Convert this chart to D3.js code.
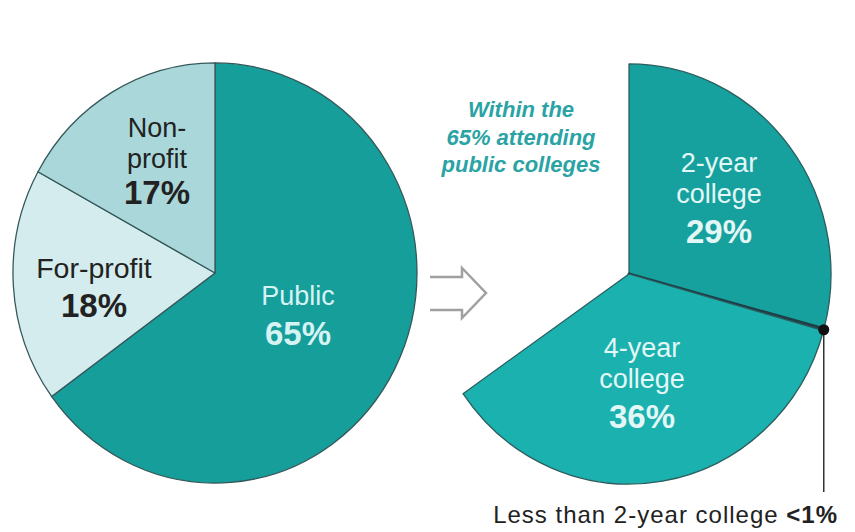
<!DOCTYPE html>
<html>
<head>
<meta charset="utf-8">
<script src="https://cdn.jsdelivr.net/npm/d3@7"></script>
<style>
  body { margin: 0; background: #fff; }
  text { font-family: "Liberation Sans", Arial, sans-serif; }
</style>
</head>
<body>
<svg id="chart" width="855" height="532"></svg>
<script>
// data
const sectors = ["Public", "For-profit", "Non-profit"];
const sectorShares = [65, 18, 17];
const publicTypes = ["2-year college", "Less than 2-year college", "4-year college"];
const publicShares = [29.2, 0.15, 36];

const W = 855, H = 532;
const rx = 202, stretch = 1.04;   // picture is a touch taller than wide

const svg = d3.select("#chart");

// whole circle = 100%
const angle = d3.scaleLinear().domain([0, 100]).range([0, 2 * Math.PI]);

const arc = d3.arc().innerRadius(0).outerRadius(rx);

// ---- left pie
const leftColors = d3.scaleOrdinal().domain(sectors).range(["#169e9b", "#d4eced", "#aad8da"]);

const left = svg.append("g")
    .attr("transform", `translate(215,273) scale(1,${stretch})`);

const pieL = d3.pie().sort(null).value(d => d.v)
    .startAngle(0).endAngle(angle(d3.sum(sectorShares)));

left.selectAll("path")
    .data(pieL(sectors.map((k, i) => ({k: k, v: sectorShares[i]}))))
    .enter().append("path")
    .attr("d", arc)
    .attr("fill", d => leftColors(d.data.k))
    .attr("stroke", "#35585a")
    .attr("stroke-width", 1.3)
    .attr("vector-effect", "non-scaling-stroke");

// ---- right pie (only the public part)
const rightColors = d3.scaleOrdinal().domain(publicTypes).range(["#16a19e", "#1d3f47", "#1bb1af"]);

const cxR = 629, cyR = 274;
const right = svg.append("g")
    .attr("transform", `translate(${cxR},${cyR}) scale(1,${stretch})`);

const pieR = d3.pie().sort(null).value(d => d.v)
    .startAngle(0).endAngle(angle(d3.sum(publicShares)));
const arcsR = pieR(publicTypes.map((k, i) => ({k: k, v: publicShares[i]})));

right.selectAll("path")
    .data(arcsR)
    .enter().append("path")
    .attr("d", arc)
    .attr("fill", d => rightColors(d.data.k))
    .attr("stroke", d => d.data.k == publicTypes[1] ? "#1d3f47" : "#2c5e60")
    .attr("stroke-width", d => d.data.k == publicTypes[1] ? 3 : 1.3)
    .attr("stroke-linejoin", "round")
    .attr("vector-effect", "non-scaling-stroke");

// dot + leader for the thin slice
const thin = arcsR[1];
const a = (thin.startAngle + thin.endAngle) / 2;
const dotX = cxR + Math.sin(a) * rx;
const dotY = cyR - Math.cos(a) * rx * stretch;

svg.append("line")
    .attr("x1", dotX).attr("y1", dotY)
    .attr("x2", dotX).attr("y2", 492)
    .attr("stroke", "#333").attr("stroke-width", 1.5);

svg.append("circle")
    .attr("cx", dotX).attr("cy", dotY).attr("r", 5.5)
    .attr("fill", "#111");

const note = svg.append("text")
    .attr("x", 838).attr("y", 523)
    .attr("text-anchor", "end")
    .attr("font-size", 24)
    .attr("letter-spacing", 1)
    .attr("fill", "#222");
note.append("tspan").text("Less than 2-year college ");
note.append("tspan").attr("font-weight", "bold").text("<1%");

// ---- arrow
svg.append("path")
    .attr("d", "M430,277 H462 V268 L486,293 L462,318 V310 H430")
    .attr("fill", "none")
    .attr("stroke", "#a0a0a0")
    .attr("stroke-width", 2.5);

// ---- labels
function label(x, lines, color) {
    const g = svg.append("g").attr("fill", color).attr("text-anchor", "middle");
    lines.forEach(l => {
        g.append("text")
            .attr("x", x).attr("y", l.y)
            .attr("font-size", l.bold ? 33 : (l.size || 27))
            .attr("font-weight", l.bold ? "bold" : "normal")
            .text(l.t);
    });
}

label(157, [{t: "Non-", y: 137}, {t: "profit", y: 168}, {t: sectorShares[2] + "%", y: 204, bold: true}], "#222");
label(94, [{t: "For-profit", y: 278, size: 28.5}, {t: sectorShares[1] + "%", y: 317, bold: true}], "#222");
label(298, [{t: "Public", y: 305}, {t: sectorShares[0] + "%", y: 345, bold: true}], "#d6f3f3");

label(719, [{t: "2-year", y: 172}, {t: "college", y: 203}, {t: "29%", y: 243, bold: true}], "#e4f7f7");
label(642, [{t: "4-year", y: 357}, {t: "college", y: 388}, {t: publicShares[2] + "%", y: 428, bold: true}], "#e4f7f7");

const within = ["Within the", sectorShares[0] + "% attending", "public colleges"];
svg.append("g").selectAll("text")
    .data(within)
    .enter().append("text")
    .attr("x", 521)
    .attr("y", (d, i) => 117 + i * 27.5)
    .attr("text-anchor", "middle")
    .attr("font-size", 22)
    .attr("font-weight", "bold")
    .attr("font-style", "italic")
    .attr("fill", "#2aa3a5")
    .text(d => d);
</script>
</body>
</html>
